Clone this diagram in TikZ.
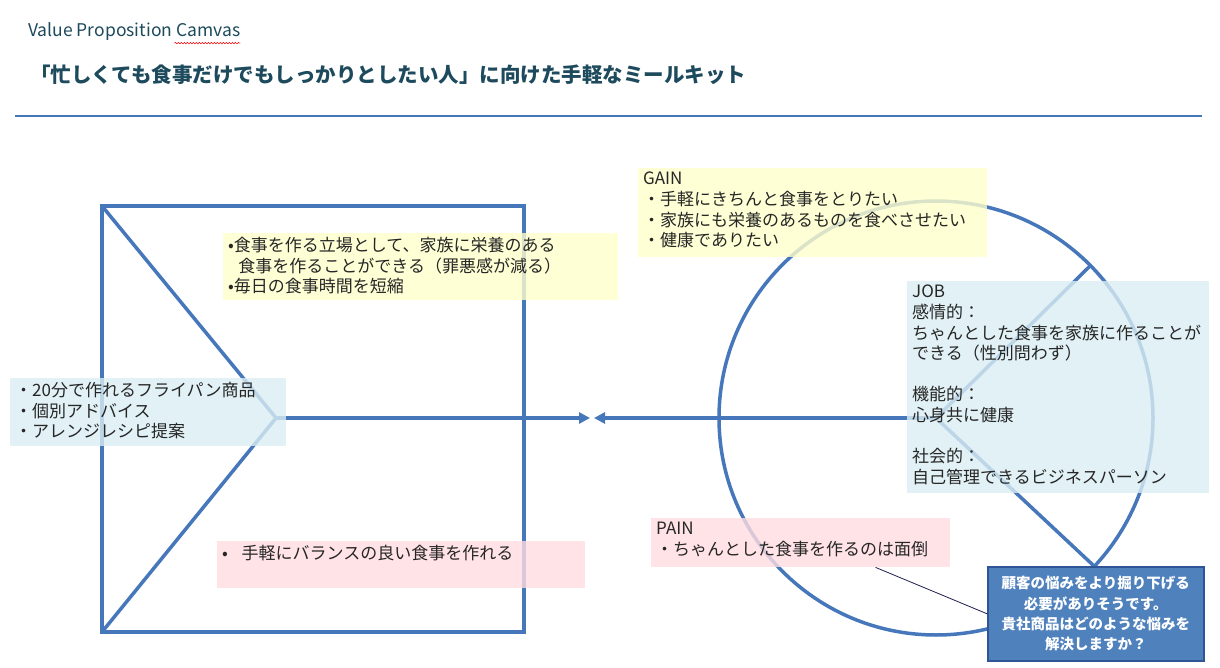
\documentclass[tikz,border=0pt]{standalone}
\usepackage{fontspec}
\setmainfont{Noto Sans CJK JP}
\usetikzlibrary{arrows.meta,decorations.pathmorphing,calc}

\definecolor{vpcblue}{HTML}{4677BA}
\definecolor{titleteal}{HTML}{1D4A5C}
\definecolor{boxyellow}{HTML}{FFFFCC}
\definecolor{boxblue}{HTML}{DAEEF3}
\definecolor{boxpink}{HTML}{FFDDE0}
\definecolor{askfill}{HTML}{4F81BD}
\definecolor{askedge}{HTML}{2F5597}
\definecolor{txtgray}{HTML}{262626}

\tikzset{
	canvas/.style={vpcblue, line width=3.5pt, line join=miter},
	arr/.style={canvas, -{Triangle[length=11pt,width=11pt]}},
	panel/.style={anchor=north west, inner sep=0pt, fill opacity=0.8},
	note/.style={anchor=north west, inner xsep=5pt, inner ysep=4pt, align=left, text=txtgray, font=\fontsize{17}{20.6}\selectfont},
}

\begin{document}
\begin{tikzpicture}[x=1pt,y=-1pt]
		
		\useasboundingbox[fill=white] (0,0) rectangle (1220,668);
		
		% Heading
		\node[anchor=west, inner sep=0pt, text=titleteal, font=\fontsize{17.5}{20}\selectfont] (vpc) at (28,32) {Value Proposition Camvas};
		\draw[red, line width=0.5pt, decorate, decoration={snake, amplitude=0.7pt, segment length=3pt}] ([xshift=-66pt,yshift=-2pt]vpc.south east) -- ([yshift=-2pt]vpc.south east);
		\node[anchor=west, inner sep=0pt, text=titleteal, font=\fontsize{20.5}{24}\selectfont\bfseries] (title) at (30,75) {「忙しくても食事だけでもしっかりとしたい人」に向けた手軽なミールキット};
		\draw[vpcblue, line width=1.2pt] (15,116) -- (1202,116);
		
		% Value map
		\draw[canvas] (102,206) rectangle (524,632);
		\coordinate (lv) at (276,418);
		\draw[canvas] (102,206) -- (lv) -- (102,632);
		\coordinate (lt) at (590,418);
		\draw[arr] (lv) -- (lt);
		
		% Customer profile
		\coordinate (cc) at (936,418);
		\draw[canvas] (cc) circle[radius=217];
		\draw[canvas] (1090,266) -- (cc) -- (1094,566);
		\coordinate (rt) at (594,418);
		\draw[arr] (cc) -- (rt);
		
		%% Products
		\node[panel, fill=boxblue, minimum width=276pt, minimum height=68pt] (prodbox) at (10,378) {};
		\node[note] (prod) at (prodbox.north west) {・20分で作れるフライパン商品\\・個別アドバイス\\・アレンジレシピ提案};
		
		%% Gain creators
		\node[panel, fill=boxyellow, minimum width=395pt, minimum height=67pt] (gcbox) at (223,233) {};
		\node[note] (gc) at (gcbox.north west) {•食事を作る立場として、家族に栄養のある\\\hspace*{0.6em}食事を作ることができる（罪悪感が減る）\\•毎日の食事時間を短縮};
		
		%% Pain relievers
		\node[panel, fill=boxpink, minimum width=368pt, minimum height=47pt] (prbox) at (217,541) {};
		\node[note] (pr) at (prbox.north west) {•\hspace{0.8em}手軽にバランスの良い食事を作れる};
		
		%% Gains
		\node[panel, fill=boxyellow, minimum width=349pt, minimum height=89pt] (gainbox) at (638,168) {};
		\node[note] (gain) at (gainbox.north west) {GAIN\\・手軽にきちんと食事をとりたい\\・家族にも栄養のあるものを食べさせたい\\・健康でありたい};
		
		%% Jobs
		\node[panel, fill=boxblue, minimum width=302pt, minimum height=212pt] (jobbox) at (907,281) {};
		\node[note] (job) at (jobbox.north west) {JOB\\感情的：\\ちゃんとした食事を家族に作ることが\\できる（性別問わず）\\[20.6pt]機能的：\\心身共に健康\\[20.6pt]社会的：\\自己管理できるビジネスパーソン};
		
		%% Pains
		\node[panel, fill=boxpink, minimum width=299pt, minimum height=49pt] (painbox) at (651,518) {};
		\node[note] (pain) at (painbox.north west) {PAIN\\・ちゃんとした食事を作るのは面倒};
		
		% Comment
		\node[anchor=north west, fill=askfill, draw=askedge, line width=1.5pt, minimum width=216pt, minimum height=94pt, align=center, text=white, font=\fontsize{14.5}{20.3}\selectfont\bfseries] (ask) at (987,566) {顧客の悩みをより掘り下げる\\必要がありそうです。\\貴社商品はどのような悩みを\\解決しますか？};
		\coordinate (pf) at ($(painbox.south west)!0.75!(painbox.south east)$);
		\draw[txtgray!80!blue, line width=0.8pt] (pf) -- (ask.west);
		
	\end{tikzpicture}
\end{document}
